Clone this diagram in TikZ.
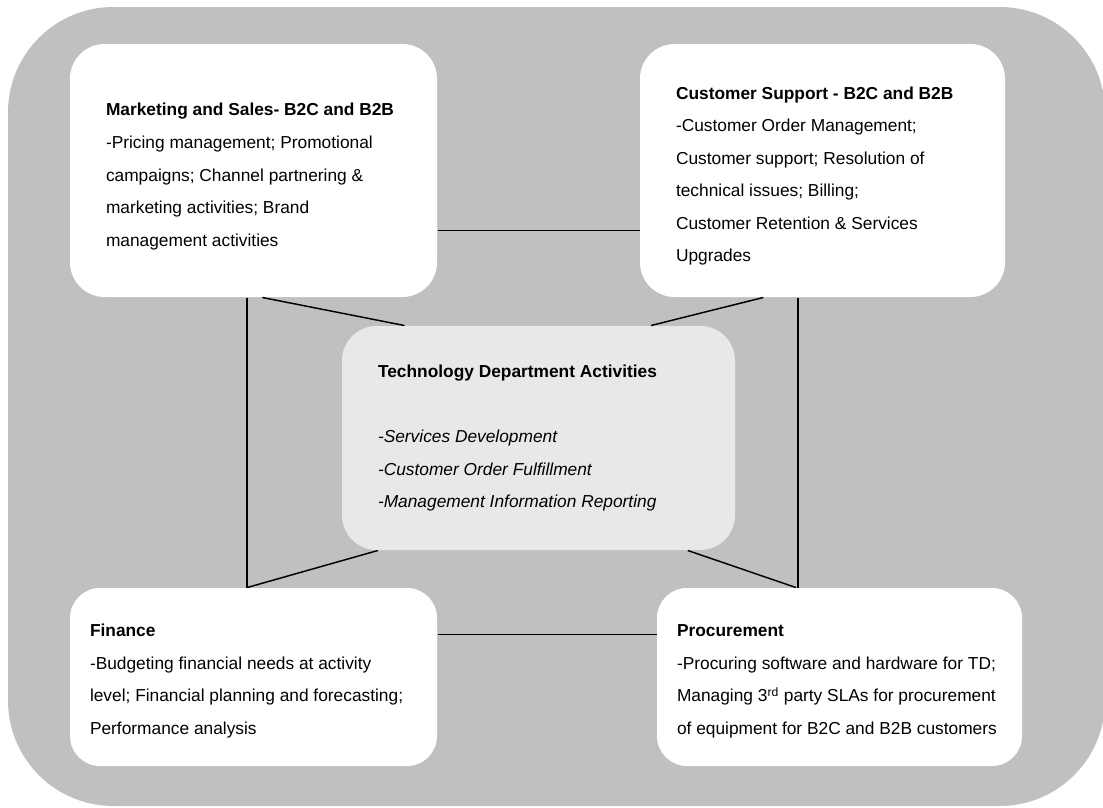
\documentclass[tikz,border=0pt]{standalone}
\usepackage{fontspec}
\setmainfont{Liberation Sans}
\definecolor{bggray}{RGB}{192,192,192}
\definecolor{tdgray}{RGB}{232,232,232}
\tikzset{every picture/.style={line width=0.75pt}}

\begin{document}
\begin{tikzpicture}[x=0.75pt,y=0.75pt,yscale=-1,xscale=1,
  dept/.style={fill=white, rounded corners=26pt, align=flush left, inner xsep=27pt,
    font=\fontsize{13}{24.4}\selectfont},
  deptlow/.style={dept, rounded corners=22.5pt, inner xsep=15pt,
    minimum height=133.5pt},
  link/.style={draw=black, line width=1.1pt}]
\useasboundingbox (0,0) rectangle (1103,807);

%Shape: Rounded Rect
\fill [bggray, rounded corners=79pt] (8,7) rectangle (1105,806);

% Text Node
\node [dept, minimum width=275.25pt, minimum height=189.75pt, text width=221.25pt] (mkt) at (253.5,170.5) {\rule{0pt}{18.5pt}\textbf{Marketing and Sales- B2C and B2B}\\-Pricing management; Promotional\\campaigns; Channel partnering \&\\marketing activities; Brand\\management activities};
% Text Node
\node [dept, minimum width=273.75pt, minimum height=189.75pt, text width=219.75pt] (cs) at (822.5,170.5) {\rule{0pt}{17.5pt}\textbf{Customer Support - B2C and B2B}\\-Customer Order Management;\\Customer support; Resolution of\\technical issues; Billing;\\Customer Retention \& Services\\Upgrades};
% Text Node
\node [dept, fill=tdgray, minimum width=294.75pt, minimum height=168pt, text width=240.75pt] (td) at (538.5,438) {\textbf{Technology Department Activities}\\[24.4pt]\textit{-Services Development}\\\textit{-Customer Order Fulfillment}\\\textit{-Management Information Reporting}};
% Text Node
\node [deptlow, minimum width=275.25pt, text width=245.25pt] (fin) at (253.5,677) {\rule{0pt}{15.5pt}\textbf{Finance}\\-Budgeting financial needs at activity\\level; Financial planning and forecasting;\\Performance analysis};
% Text Node
\node [deptlow, minimum width=273.75pt, text width=243.75pt] (proc) at (839.5,677) {\rule{0pt}{15.5pt}\textbf{Procurement}\\-Procuring software and hardware for TD;\\Managing 3\textsuperscript{rd} party SLAs for procurement\\of equipment for B2C and B2B customers};

%Straight Lines
\draw [link] (mkt.-18) -- (mkt.-18 -| cs.west) ;
\draw [link] (fin.13.2) -- (fin.13.2 -| proc.west) ;
\draw [link] (mkt.-93.4) -- (mkt.-93.4 |- fin.north) ;
\draw [link] (cs.-101.8) -- (cs.-101.8 |- proc.north) ;
%Straight Lines
\draw [link] (mkt.-86.2) -- (td.140.4) ;
\draw [link] (cs.-115.6) -- (td.45.6) ;
\draw [link] (td.-145.3) -- (fin.94.8) ;
\draw [link] (td.-37.8) -- (proc.116) ;

\end{tikzpicture}
\end{document}
